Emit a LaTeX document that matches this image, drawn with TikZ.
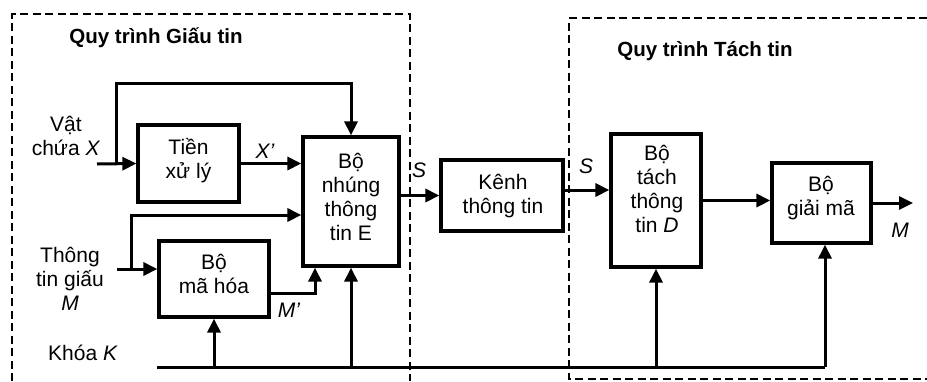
\documentclass[tikz,border=0pt]{standalone}
\usepackage{fontspec}
\setmainfont{Liberation Sans}
\usetikzlibrary{arrows.meta}

\begin{document}
\begin{tikzpicture}[
  x=1pt, y=-1pt,
  blk/.style={draw, line width=3.2pt, inner sep=0pt},
  txt/.style={font=\fontsize{21}{24}\selectfont, align=center, inner sep=0pt, anchor=base},
  ttl/.style={font=\fontsize{20.5}{24}\selectfont\bfseries, inner sep=0pt, anchor=base},
  line/.style={line width=3pt},
  arr/.style={line width=3pt, -{Triangle[length=14pt, width=13pt]}},
  zone/.style={line width=1.6pt, dash pattern=on 8pt off 4.5pt}
]
\useasboundingbox (0,0) rectangle (927,381);

% --- Dashed zones ---
\draw[zone] (12,381) -- (12,14) -- (410,14) -- (410,381);
\draw[zone] (927,18) -- (569,18) -- (569,379) -- (927,379);
\node[ttl] (ttl-giau) at (156,43) {Quy trình Giấu tin};
\node[ttl] (ttl-tach) at (705,56) {Quy trình Tách tin};

% --- Blocks ---
\node[blk, minimum width=101pt, minimum height=77pt] (tien) at (188.5,163.5) {};
\node[blk, minimum width=96pt, minimum height=129pt] (nhung) at (351,201.5) {};
\node[blk, minimum width=110pt, minimum height=76pt] (mahoa) at (214,279) {};
\node[blk, minimum width=122pt, minimum height=71pt] (kenh) at (502,195.5) {};
\node[blk, minimum width=90pt, minimum height=133pt] (tach) at (656,200.5) {};
\node[blk, minimum width=99pt, minimum height=80pt] (giaima) at (821.5,203) {};

% text sits on the baseline of its last line
\node[txt] (tien-t) at (188.5,178) {Tiền\\xử lý};
\node[txt] (nhung-t) at (351,240) {Bộ\\nhúng\\thông\\tin E};
\node[txt] (mahoa-t) at (214,293) {Bộ\\mã hóa};
\node[txt] (kenh-t) at (503,213) {Kênh\\thông tin};
\node[txt] (tach-t) at (657,232) {Bộ\\tách\\thông\\tin \textit{D}};
\node[txt] (giaima-t) at (821,215) {Bộ\\giải mã};

% --- Inputs ---
\node[txt] (vatchua) at (66,155) {Vật\\chứa \textit{X}};
\node[txt] (tgiau) at (70,310) {Thông\\tin giấu\\\textit{M}};
\node[txt] (khoa) at (83,360) {Khóa \textit{K}};

\coordinate (xin) at (97,164);
\coordinate (xbr) at (116,164);
\coordinate (xtop) at (116,83);
\coordinate (min) at (117,269);
\coordinate (mbr) at (131,269);
\coordinate (mup) at (131,215);
\coordinate (mpr) at (315,293);
\coordinate (kin) at (157,367);
\coordinate (kend) at (825,367);
\coordinate (sin) at (563,190);
\coordinate (mend) at (913,203);

% cover X
\draw[arr] (xin) -- (tien.west);
\draw[arr] (xbr) -- (xtop) -| (nhung.north);
\draw[arr] (tien.east) -- (tien.east -| nhung.west);
\node[txt] (xp) at (265,158) {\textit{X’}};

% message M
\draw[arr] (min) -- (min -| mahoa.west);
\draw[arr] (mbr) -- (mup) -- (mup -| nhung.west);
\draw[arr] (mahoa.east |- mpr) -- (mpr) -- (mpr |- nhung.south);
\node[txt] (mp) at (289,317) {\textit{M’}};

% key K
\draw[line] (kin) -- (kend);
\draw[arr] (mahoa.south |- kin) -- (mahoa.south);
\draw[arr] (nhung.south |- kin) -- (nhung.south);
\draw[arr] (tach.south |- kin) -- (tach.south);
\draw[arr] (kend) -- (kend |- giaima.south);

% channel
\draw[arr] (nhung.east |- kenh.west) -- (kenh.west);
\node[txt] (s1) at (419,177) {\textit{S}};
\draw[arr] (sin) -- (sin -| tach.west);
\node[txt] (s2) at (586,173) {\textit{S}};
\draw[arr] (tach.east) -- (tach.east -| giaima.west);
\draw[arr] (giaima.east) -- (mend);
\node[txt] (mo) at (900,237) {\textit{M}};

\end{tikzpicture}
\end{document}
